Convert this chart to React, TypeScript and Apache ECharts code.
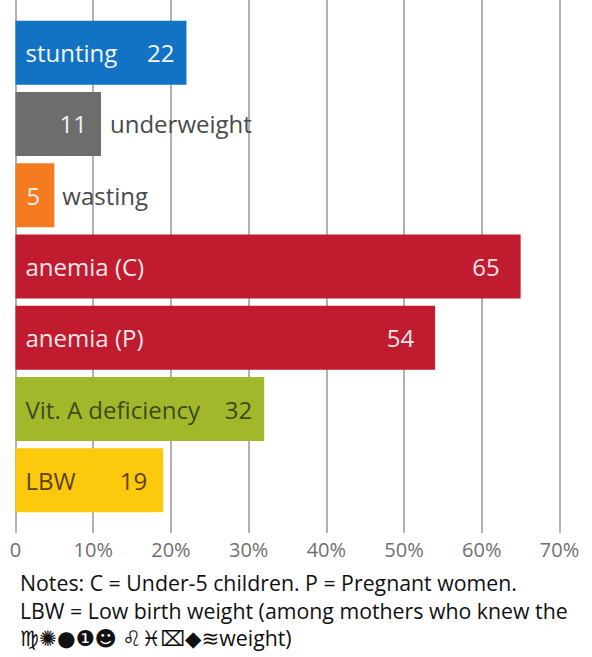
import React, { useEffect, useRef } from "react";
import * as echarts from "echarts";

const categories = [
  "stunting",
  "underweight",
  "wasting",
  "anemia (C)",
  "anemia (P)",
  "Vit. A deficiency",
  "LBW",
];
const values = [22, 11, 5, 65, 54, 32, 19];
const barColors = ["#1273c4", "#6d6d6d", "#f47b20", "#c11b30", "#c11b30", "#a3b72a", "#fcc90d"];
const tickLabels = ["0", "10%", "20%", "30%", "40%", "50%", "60%", "70%"];
const notes = [
  "Notes: C = Under-5 children. P = Pregnant women.",
  "LBW = Low birth weight (among mothers who knew the",
  "♍✺●❶☻ ♌♓⌧◆≋weight)",
];

type Lay = { a: "name" | "value"; aPos: string; aDist: number; b: "name" | "value"; bPos: string; bDist: number; color: string; outColor?: string };
const layouts: Lay[] = [
  { a: "name", aPos: "insideLeft", aDist: 10, b: "value", bPos: "insideRight", bDist: 12, color: "#f4f6fa" },
  { a: "value", aPos: "insideRight", aDist: 14, b: "name", bPos: "right", bDist: 9, color: "#f2f2f2", outColor: "#4a4a4a" },
  { a: "value", aPos: "insideLeft", aDist: 11, b: "name", bPos: "right", bDist: 8, color: "#fbeee2", outColor: "#4a4a4a" },
  { a: "name", aPos: "insideLeft", aDist: 10, b: "value", bPos: "insideRight", bDist: 21, color: "#f7e6e8" },
  { a: "name", aPos: "insideLeft", aDist: 10, b: "value", bPos: "insideRight", bDist: 21, color: "#f7e6e8" },
  { a: "name", aPos: "insideLeft", aDist: 10, b: "value", bPos: "insideRight", bDist: 12, color: "#3e4a1c" },
  { a: "name", aPos: "insideLeft", aDist: 10, b: "value", bPos: "insideRight", bDist: 16, color: "#5a4312" },
];

const FONT = "'Open Sans', 'DejaVu Sans', sans-serif";

export default function App() {
  const ref = useRef<HTMLDivElement>(null);
  useEffect(() => {
    if (!ref.current) return;
    const chart = echarts.init(ref.current, undefined, { renderer: "svg" });
    const labelFor = (kind: "name" | "value", pos: string, dist: number, color: string, i: number) => ({
      show: true,
      position: pos,
      distance: dist,
      formatter: kind === "name" ? categories[i] : String(values[i]),
      color,
      fontSize: 24,
      fontFamily: FONT,
    });
    const mainData = values.map((v, i) => ({
      value: v,
      itemStyle: { color: barColors[i] },
      label: labelFor(layouts[i].a, layouts[i].aPos, layouts[i].aDist, layouts[i].color, i),
    }));
    const overlayData = values.map((v, i) => ({
      value: v,
      label: labelFor(
        layouts[i].b,
        layouts[i].bPos,
        layouts[i].bDist,
        layouts[i].bPos === "right" ? layouts[i].outColor || "#4a4a4a" : layouts[i].color,
        i
      ),
    }));
    const axisCommon = {
      type: "value" as const,
      min: 0,
      max: 70,
      interval: 10,
      axisLine: { show: false },
    };
    chart.setOption({
      animation: false,
      grid: { left: 15.5, right: 32.5, top: 17, bottom: 141, containLabel: false },
      xAxis: [
        {
          ...axisCommon,
          position: "bottom",
          axisTick: { show: true, length: 17, lineStyle: { color: "#999", width: 1.5 } },
          axisLabel: {
            margin: 23,
            fontSize: 20,
            color: "#707070",
            fontFamily: FONT,
            formatter: (v: number) => tickLabels[Math.round(v / 10)],
          },
          splitLine: { show: true, lineStyle: { color: "#999", width: 1.5 } },
        },
        {
          ...axisCommon,
          position: "top",
          axisTick: { show: true, length: 17, lineStyle: { color: "#999", width: 1.5 } },
          axisLabel: { show: false },
          splitLine: { show: false },
        },
      ],
      yAxis: {
        type: "category",
        data: categories,
        inverse: true,
        axisLine: { show: false },
        axisTick: { show: false },
        axisLabel: { show: false },
      },
      series: [
        { type: "bar", data: mainData, barWidth: 64, xAxisIndex: 0, z: 2 },
        {
          type: "bar",
          data: overlayData,
          barWidth: 64,
          barGap: "-100%",
          xAxisIndex: 0,
          itemStyle: { color: "rgba(0,0,0,0)" },
          z: 3,
        },
      ],
      graphic: notes.map((t, i) => ({
        type: "text",
        left: 20,
        top: [572, 600, 627][i],
        style: { text: t, fontSize: 21.3, fontFamily: FONT, fill: "#111" },
      })),
    });
    return () => chart.dispose();
  }, []);
  return (
    <div
      ref={ref}
      style={{ position: "absolute", left: 0, top: 0, width: 592, height: 657, background: "#fff" }}
    />
  );
}
